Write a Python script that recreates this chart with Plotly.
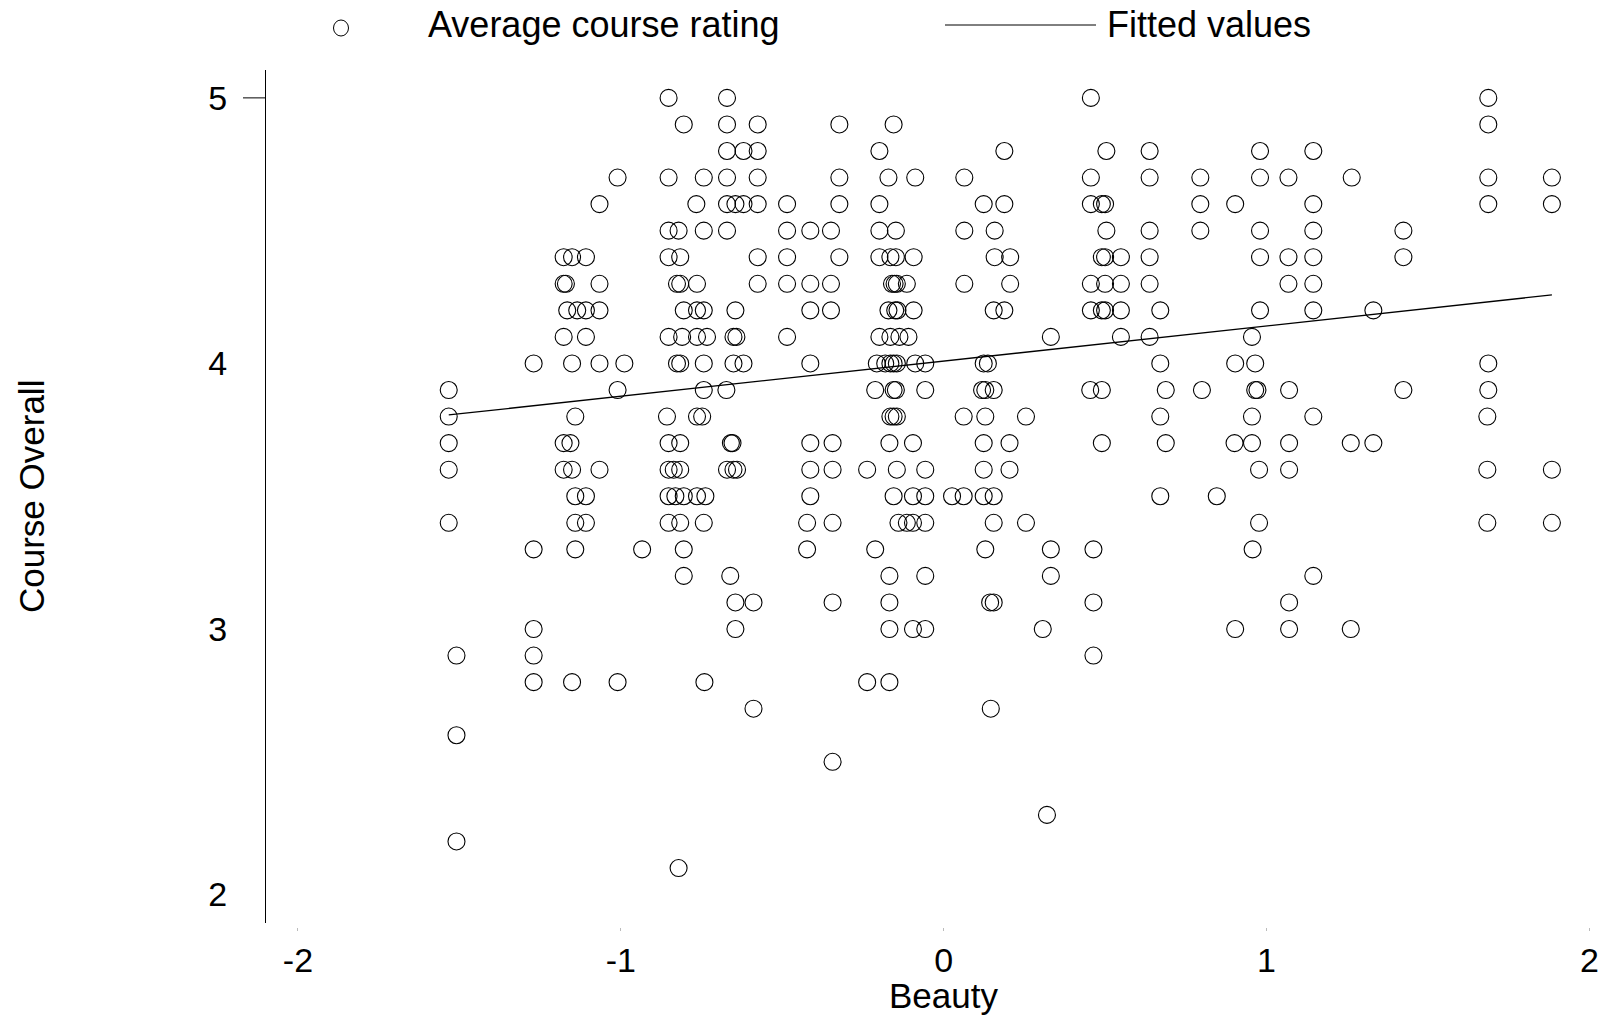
import plotly.graph_objects as go

# ---- data: beauty scores of courses grouped by their average course rating ----
ratings = [5.0, 4.9, 4.8, 4.7, 4.6, 4.5, 4.4, 4.3, 4.2, 4.1, 4.0, 3.9, 3.8, 3.7, 3.6,
           3.5, 3.4, 3.3, 3.2, 3.1, 3.0, 2.9, 2.8, 2.7, 2.6, 2.5, 2.3, 2.2, 2.1]

beauty_r50 = [-0.852, -0.671, 0.456, 1.687]
beauty_r49 = [-0.805, -0.671, -0.576, -0.323, -0.155, 1.687]
beauty_r48 = [-0.671, -0.620, -0.576, -0.199, 0.188, 0.504, 0.638, 0.980, 1.145]
beauty_r47 = [-1.010, -0.852, -0.743, -0.671, -0.576, -0.323, -0.171, -0.088, 0.064, 0.456,
              0.638, 0.795, 0.980, 1.068, 1.264, 1.687, 1.884]
beauty_r46 = [-1.066, -0.766, -0.671, -0.645, -0.620, -0.576, -0.485, -0.323, -0.199, 0.124,
              0.188, 0.456, 0.490, 0.500, 0.795, 0.903, 1.145, 1.687, 1.884]
beauty_r45 = [-0.852, -0.821, -0.743, -0.671, -0.485, -0.413, -0.349, -0.199, -0.148, 0.064,
              0.158, 0.504, 0.638, 0.795, 0.980, 1.145, 1.424]
beauty_r44 = [-1.177, -1.151, -1.108, -0.852, -0.816, -0.576, -0.485, -0.323, -0.199, -0.165,
              -0.148, -0.093, 0.158, 0.206, 0.490, 0.500, 0.549, 0.638, 0.980, 1.068, 1.145, 1.424]
beauty_r43 = [-1.177, -1.170, -1.066, -0.826, -0.816, -0.764, -0.576, -0.485, -0.413, -0.349,
              -0.160, -0.152, -0.145, -0.114, 0.064, 0.206, 0.456, 0.500, 0.549, 0.638, 1.068, 1.145]
beauty_r42 = [-1.166, -1.135, -1.108, -1.066, -0.805, -0.764, -0.743, -0.645, -0.413, -0.349,
              -0.171, -0.150, -0.143, -0.093, 0.155, 0.188, 0.456, 0.490, 0.500, 0.549, 0.671,
              0.980, 1.145, 1.331]
beauty_r41 = [-1.177, -1.108, -0.852, -0.810, -0.764, -0.733, -0.651, -0.642, -0.485, -0.199,
              -0.165, -0.137, -0.109, 0.332, 0.549, 0.638, 0.955]
beauty_r40 = [-1.270, -1.151, -1.066, -0.989, -0.826, -0.816, -0.743, -0.651, -0.620, -0.413,
              -0.207, -0.181, -0.165, -0.155, -0.145, -0.088, -0.057, 0.124, 0.137, 0.671,
              0.903, 0.965, 1.687]
beauty_r39 = [-1.533, -1.010, -0.743, -0.673, -0.212, -0.155, -0.148, -0.057, 0.119, 0.129,
              0.155, 0.454, 0.490, 0.688, 0.800, 0.965, 0.972, 1.070, 1.424, 1.687]
beauty_r38 = [-1.533, -1.141, -0.857, -0.764, -0.748, -0.165, -0.155, -0.145, 0.062, 0.129,
              0.255, 0.671, 0.955, 1.145, 1.684]
beauty_r37 = [-1.533, -1.177, -1.156, -0.852, -0.816, -0.659, -0.654, -0.413, -0.344, -0.168,
              -0.095, 0.124, 0.204, 0.490, 0.688, 0.901, 0.955, 1.070, 1.261, 1.331]
beauty_r36 = [-1.533, -1.177, -1.151, -1.066, -0.852, -0.836, -0.816, -0.671, -0.651, -0.640,
              -0.413, -0.344, -0.237, -0.145, -0.057, 0.124, 0.204, 0.977, 1.070, 1.684, 1.884]
beauty_r35 = [-1.141, -1.108, -0.852, -0.831, -0.805, -0.764, -0.738, -0.413, -0.155, -0.095,
              -0.057, 0.026, 0.062, 0.124, 0.155, 0.671, 0.846]
beauty_r34 = [-1.533, -1.141, -1.108, -0.852, -0.816, -0.743, -0.423, -0.344, -0.140, -0.114,
              -0.095, -0.057, 0.155, 0.255, 0.977, 1.684, 1.884]
beauty_r33 = [-1.270, -1.141, -0.934, -0.805, -0.423, -0.212, 0.129, 0.332, 0.464, 0.957]
beauty_r32 = [-0.805, -0.661, -0.168, -0.057, 0.332, 1.145]
beauty_r31 = [-0.645, -0.589, -0.344, -0.168, 0.144, 0.155, 0.464, 1.070]
beauty_r30 = [-1.270, -0.645, -0.168, -0.095, -0.057, 0.307, 0.903, 1.070, 1.261]
beauty_r29 = [-1.509, -1.270, 0.464]
beauty_r28 = [-1.270, -1.151, -1.010, -0.741, -0.237, -0.168]
beauty_r27 = [-0.589, 0.146]
beauty_r26 = [-1.509]
beauty_r25 = [-0.344]
beauty_r23 = [0.320]
beauty_r22 = [-1.509]
beauty_r21 = [-0.821]

beauty_rows = [beauty_r50, beauty_r49, beauty_r48, beauty_r47, beauty_r46, beauty_r45,
               beauty_r44, beauty_r43, beauty_r42, beauty_r41, beauty_r40, beauty_r39,
               beauty_r38, beauty_r37, beauty_r36, beauty_r35, beauty_r34, beauty_r33,
               beauty_r32, beauty_r31, beauty_r30, beauty_r29, beauty_r28, beauty_r27,
               beauty_r26, beauty_r25, beauty_r23, beauty_r22, beauty_r21]

# fitted regression line (endpoints)
fit_beauty = [-1.533, 1.884]
fit_values = [3.806, 4.258]

x_tick_vals = [-2, -1, 0, 1, 2]
x_tick_text = ["-2", "-1", "0", "1", "2"]
y_tick_vals = [2, 3, 4, 5]
y_tick_text = ["2", "3", "4", "5"]

# ---- build point arrays ----
xs, ys = [], []
for r, row in zip(ratings, beauty_rows):
    for b in row:
        xs.append(b)
        ys.append(r)

FONT = "Liberation Sans, Arial, Helvetica, sans-serif"
W, H = 1614, 1018
L, R, T, B = 266, 14, 70, 75
PW = W - L - R
PH = H - T - B


def px_x(p):
    return (p - L) / PW


def px_y(p):
    return (H - B - p) / PH


fig = go.Figure()
fig.add_trace(go.Scatter(
    x=xs, y=ys, mode="markers", name="Average course rating",
    marker=dict(symbol="circle-open", size=17, color="black", line=dict(width=1.1, color="black")),
    showlegend=False,
))
fig.add_trace(go.Scatter(
    x=fit_beauty, y=fit_values, mode="lines", name="Fitted values",
    line=dict(color="black", width=1.3), showlegend=False,
))

fig.update_layout(
    width=W, height=H,
    margin=dict(l=L, r=R, t=T, b=B, pad=0),
    paper_bgcolor="white", plot_bgcolor="white",
    font=dict(family=FONT, size=34, color="black"),
    xaxis=dict(
        range=[-2.099, 2.033], anchor="free", position=16 / PH,
        showline=False, showgrid=False, zeroline=False,
        tickmode="array", tickvals=x_tick_vals, ticktext=x_tick_text,
        ticks="outside", ticklen=3, tickwidth=1, tickcolor="#bbbbbb",
        tickfont=dict(family=FONT, size=34, color="black"),
    ),
    yaxis=dict(
        range=[1.893, 5.105], domain=[(943 - 923) / PH, 1],
        showline=True, linecolor="black", linewidth=1,
        showgrid=False, zeroline=False,
        tickmode="array", tickvals=y_tick_vals, ticktext=y_tick_text,
        ticks="outside", ticklen=31, tickwidth=1, tickcolor="rgba(0,0,0,0)",
        tickfont=dict(family=FONT, size=34, color="black"),
    ),
)

# tick mark at 5 (the only visible y tick in the reference)
fig.add_shape(type="line", xref="paper", yref="y", x0=px_x(243), x1=0, y0=5, y1=5,
              line=dict(color="black", width=1))

# manual legend
fig.add_shape(type="circle", xref="paper", yref="paper",
              xsizemode="pixel", ysizemode="pixel",
              xanchor=px_x(341), yanchor=px_y(28), x0=-7.5, x1=7.5, y0=-8, y1=8,
              line=dict(color="black", width=1))
fig.add_annotation(text="Average course rating", xref="paper", yref="paper",
                   x=px_x(426), y=px_y(25), xanchor="left", yanchor="middle",
                   showarrow=False, font=dict(family=FONT, size=36, color="black"))
fig.add_shape(type="line", xref="paper", yref="paper",
              x0=px_x(945), x1=px_x(1096), y0=px_y(25), y1=px_y(25),
              line=dict(color="black", width=1))
fig.add_annotation(text="Fitted values", xref="paper", yref="paper",
                   x=px_x(1105), y=px_y(25), xanchor="left", yanchor="middle",
                   showarrow=False, font=dict(family=FONT, size=36, color="black"))

# axis titles
fig.add_annotation(text="Course Overall", xref="paper", yref="paper",
                   x=px_x(31), y=px_y(497), xanchor="center", yanchor="middle",
                   textangle=-90, showarrow=False,
                   font=dict(family=FONT, size=35, color="black"))
fig.add_annotation(text="Beauty", xref="paper", yref="paper",
                   x=px_x(943), y=px_y(995), xanchor="center", yanchor="middle",
                   showarrow=False, font=dict(family=FONT, size=35, color="black"))

fig.write_html("out.html", config={"displayModeBar": False},
               post_script="document.body.style.margin='0px';")
